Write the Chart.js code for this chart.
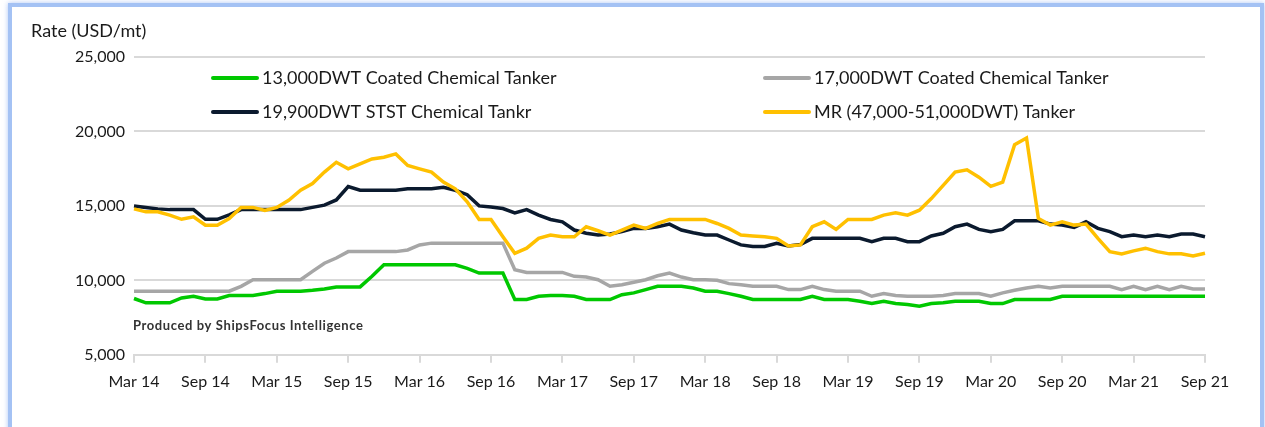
<!DOCTYPE html>
<html>
<head>
<meta charset="utf-8">
<script src="https://cdn.jsdelivr.net/npm/chart.js@4.4.0/dist/chart.umd.min.js"></script>
<style>
    html, body { margin: 0; padding: 0; background: #fff; overflow: hidden; }
    body { width: 1265px; height: 427px; position: relative; }
    #frame {
        position: absolute; left: 8px; top: 3px; width: 1248px; height: 500px;
        border: 4px solid #a4c2f4;
        box-shadow: 0 0 5px rgba(120, 160, 240, 0.6);
        background: #fff;
    }
    #chart { position: absolute; left: 0; top: 0; }
</style>
</head>
<body>
<div id="frame"></div>
<canvas id="chart" width="1265" height="427"></canvas>
<script>
// Monthly, Mar 14 .. Sep 21
const months = [
    'Mar 14', 'Apr 14', 'May 14', 'Jun 14', 'Jul 14', 'Aug 14', 'Sep 14', 'Oct 14', 'Nov 14', 'Dec 14',
    'Jan 15', 'Feb 15', 'Mar 15', 'Apr 15', 'May 15', 'Jun 15', 'Jul 15', 'Aug 15', 'Sep 15', 'Oct 15', 'Nov 15', 'Dec 15',
    'Jan 16', 'Feb 16', 'Mar 16', 'Apr 16', 'May 16', 'Jun 16', 'Jul 16', 'Aug 16', 'Sep 16', 'Oct 16', 'Nov 16', 'Dec 16',
    'Jan 17', 'Feb 17', 'Mar 17', 'Apr 17', 'May 17', 'Jun 17', 'Jul 17', 'Aug 17', 'Sep 17', 'Oct 17', 'Nov 17', 'Dec 17',
    'Jan 18', 'Feb 18', 'Mar 18', 'Apr 18', 'May 18', 'Jun 18', 'Jul 18', 'Aug 18', 'Sep 18', 'Oct 18', 'Nov 18', 'Dec 18',
    'Jan 19', 'Feb 19', 'Mar 19', 'Apr 19', 'May 19', 'Jun 19', 'Jul 19', 'Aug 19', 'Sep 19', 'Oct 19', 'Nov 19', 'Dec 19',
    'Jan 20', 'Feb 20', 'Mar 20', 'Apr 20', 'May 20', 'Jun 20', 'Jul 20', 'Aug 20', 'Sep 20', 'Oct 20', 'Nov 20', 'Dec 20',
    'Jan 21', 'Feb 21', 'Mar 21', 'Apr 21', 'May 21', 'Jun 21', 'Jul 21', 'Aug 21', 'Sep 21'
];

const coated13k = [
    8780, 8490, 8490, 8490, 8820, 8930, 8750, 8750, 8980, 8980,
    8980, 9110, 9270, 9270, 9270, 9330, 9420, 9560, 9560, 9560, 10270, 11040,
    11040, 11040, 11040, 11040, 11040, 11040, 10800, 10490, 10490, 10490, 8710, 8710,
    8930, 8980, 8980, 8930, 8710, 8710, 8710, 9040, 9160, 9380, 9600, 9600,
    9600, 9490, 9270, 9270, 9110, 8930, 8710, 8710, 8710, 8710, 8710, 8930,
    8710, 8710, 8710, 8600, 8440, 8600, 8440, 8380, 8270, 8440, 8490, 8600,
    8600, 8600, 8440, 8440, 8710, 8710, 8710, 8710, 8930, 8930, 8930, 8930,
    8930, 8930, 8930, 8930, 8930, 8930, 8930, 8930, 8930
];

const coated17k = [
    9270, 9270, 9270, 9270, 9270, 9270, 9270, 9270, 9270, 9600,
    10040, 10040, 10040, 10040, 10040, 10600, 11150, 11500, 11930, 11930, 11930, 11930,
    11930, 12040, 12380, 12500, 12500, 12500, 12500, 12500, 12500, 12500, 10710, 10530,
    10530, 10530, 10530, 10270, 10220, 10040, 9600, 9710, 9870, 10040, 10310, 10490,
    10220, 10040, 10040, 10000, 9780, 9710, 9600, 9600, 9600, 9380, 9380, 9600,
    9380, 9270, 9270, 9270, 8930, 9110, 8980, 8930, 8930, 8930, 8980, 9110,
    9110, 9110, 8930, 9160, 9330, 9490, 9600, 9490, 9600, 9600, 9600, 9600,
    9600, 9380, 9600, 9380, 9600, 9380, 9600, 9420, 9420
];

const stst19k = [
    15000, 14900, 14800, 14750, 14750, 14750, 14100, 14100, 14400, 14750,
    14750, 14750, 14750, 14750, 14750, 14900, 15050, 15400, 16300, 16050, 16050, 16050,
    16050, 16150, 16150, 16150, 16250, 16050, 15750, 15000, 14930, 14820, 14530, 14750,
    14380, 14090, 13930, 13380, 13160, 13040, 13110, 13270, 13490, 13490, 13600, 13780,
    13380, 13200, 13040, 13040, 12710, 12380, 12270, 12270, 12490, 12310, 12400, 12820,
    12820, 12820, 12820, 12820, 12600, 12820, 12820, 12600, 12600, 12980, 13160, 13600,
    13780, 13420, 13270, 13420, 14000, 14000, 14000, 13780, 13710, 13560, 13930, 13490,
    13270, 12930, 13040, 12930, 13040, 12930, 13110, 13110, 12930
];

const mrTanker = [
    14800, 14600, 14600, 14380, 14100, 14270, 13700, 13700, 14150, 14900,
    14900, 14700, 14900, 15380, 16050, 16500, 17270, 17930, 17490, 17820, 18150, 18270,
    18490, 17710, 17490, 17270, 16600, 16150, 15270, 14090, 14090, 12930, 11820, 12160,
    12820, 13040, 12930, 12930, 13600, 13330, 13040, 13380, 13710, 13490, 13820, 14090,
    14090, 14090, 14090, 13820, 13490, 13040, 12980, 12930, 12820, 12310, 12380, 13600,
    13930, 13420, 14090, 14090, 14090, 14380, 14530, 14380, 14710, 15490, 16380, 17270,
    17420, 16930, 16310, 16600, 19110, 19560, 14160, 13710, 13930, 13710, 13780, 12820,
    11930, 11780, 11980, 12160, 11930, 11780, 11780, 11640, 11820
];

const seriesNames = [
    '13,000DWT Coated Chemical Tanker',
    '17,000DWT Coated Chemical Tanker',
    '19,900DWT STST Chemical Tankr',
    'MR (47,000-51,000DWT) Tanker'
];
const seriesColors = ['#00c800', '#a6a6a6', '#0b1a2e', '#ffc000'];

const FONT = 'Lato, "Liberation Sans", sans-serif';
const TEXT = '#1a1a1a';

// Legend (2x2, inside plot), axis caption and credit line
const overlayText = {
    id: 'overlayText',
    afterDraw(chart) {
        const ctx = chart.ctx;
        const area = chart.chartArea;
        ctx.save();
        ctx.textBaseline = 'middle';

        ctx.font = '18px ' + FONT;
        ctx.fillStyle = TEXT;
        ctx.textAlign = 'left';
        ctx.fillText('Rate (USD/mt)', 31, 31);

        const cols = [area.left + 79, area.left + 631];
        const rows = [78, 112];
        const order = [[0, 0, 0], [1, 1, 0], [2, 0, 1], [3, 1, 1]];
        order.forEach(([ds, c, r]) => {
            const x = cols[c], y = rows[r];
            ctx.strokeStyle = seriesColors[ds];
            ctx.lineWidth = 4;
            ctx.lineCap = 'round';
            ctx.beginPath();
            ctx.moveTo(x, y);
            ctx.lineTo(x + 44, y);
            ctx.stroke();
            ctx.font = '18px ' + FONT;
            ctx.fillStyle = TEXT;
            ctx.fillText(seriesNames[ds], x + 49, y);
        });

        ctx.font = 'bold 13px ' + FONT;
        ctx.fillStyle = '#333';
        ctx.letterSpacing = '0.6px';
        ctx.fillText('Produced by ShipsFocus Intelligence', area.left - 1, 326);
        ctx.restore();
    }
};

const datasets = [coated13k, coated17k, stst19k, mrTanker].map((vals, i) => ({
    label: seriesNames[i],
    data: vals,
    borderColor: seriesColors[i],
    borderWidth: 3.5,
    pointRadius: 0,
    tension: 0,
    fill: false
}));
// draw order: gray, green, black, yellow on top like the source
datasets[0].order = 3;
datasets[1].order = 4;
datasets[2].order = 2;
datasets[3].order = 1;

new Chart(document.getElementById('chart'), {
    type: 'line',
    data: { labels: months, datasets: datasets },
    plugins: [overlayText],
    options: {
        responsive: false,
        animation: false,
        layout: { padding: { left: 34, right: 60, top: 57, bottom: 27 } },
        plugins: {
            legend: { display: false },
            tooltip: { enabled: false }
        },
        scales: {
            x: {
                offset: false,
                grid: {
                    drawOnChartArea: false,
                    drawTicks: true,
                    tickLength: 8,
                    color: '#d9d9d9',
                    lineWidth: 2
                },
                border: { color: '#d9d9d9', width: 2 },
                ticks: {
                    autoSkip: false,
                    maxRotation: 0,
                    padding: 9,
                    color: TEXT,
                    font: { family: FONT, size: 16 },
                    callback: function(value, index) {
                        return index % 6 === 0 ? this.getLabelForValue(value) : null;
                    }
                }
            },
            y: {
                min: 5000,
                max: 25000,
                afterFit: (scale) => { scale.width = 100; },
                grid: { color: '#d9d9d9', lineWidth: 2, drawTicks: false },
                border: { display: false },
                ticks: {
                    stepSize: 5000,
                    padding: 9,
                    color: TEXT,
                    font: { family: FONT, size: 16 },
                    callback: (v) => v.toLocaleString('en-US')
                }
            }
        }
    }
});
</script>
</body>
</html>
